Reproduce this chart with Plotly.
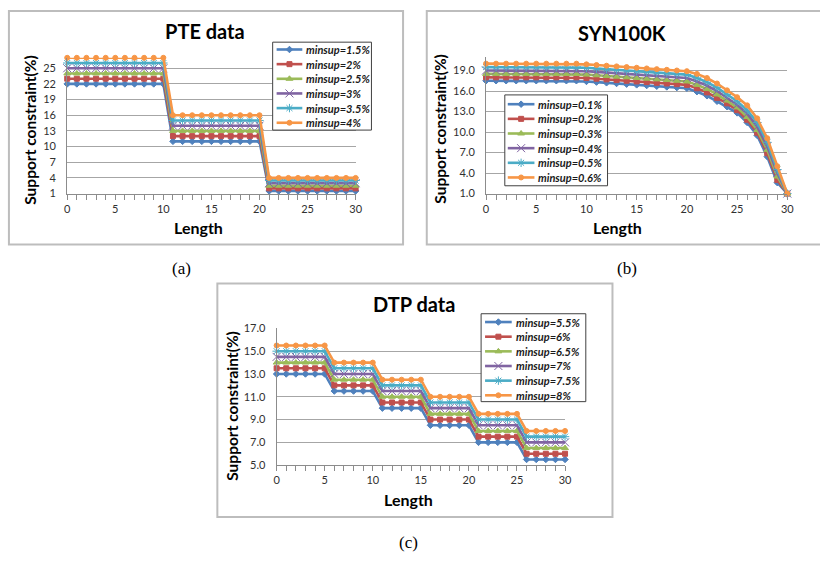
import plotly.graph_objects as go

# ---------------- data ----------------
length = list(range(31))

pte_names = ["minsup=1.5%", "minsup=2%", "minsup=2.5%", "minsup=3%", "minsup=3.5%", "minsup=4%"]
pte_15 = [22,22,22,22,22,22,22,22,22,22,22, 11,11,11,11,11,11,11,11,11,11, 1.5,1.5,1.5,1.5,1.5,1.5,1.5,1.5,1.5,1.5]
pte_20 = [23,23,23,23,23,23,23,23,23,23,23, 12,12,12,12,12,12,12,12,12,12, 2,2,2,2,2,2,2,2,2,2]
pte_25 = [24,24,24,24,24,24,24,24,24,24,24, 13,13,13,13,13,13,13,13,13,13, 2.5,2.5,2.5,2.5,2.5,2.5,2.5,2.5,2.5,2.5]
pte_30 = [25,25,25,25,25,25,25,25,25,25,25, 14,14,14,14,14,14,14,14,14,14, 3,3,3,3,3,3,3,3,3,3]
pte_35 = [26,26,26,26,26,26,26,26,26,26,26, 15,15,15,15,15,15,15,15,15,15, 3.5,3.5,3.5,3.5,3.5,3.5,3.5,3.5,3.5,3.5]
pte_40 = [27,27,27,27,27,27,27,27,27,27,27, 16,16,16,16,16,16,16,16,16,16, 4,4,4,4,4,4,4,4,4,4]

syn_names = ["minsup=0.1%", "minsup=0.2%", "minsup=0.3%", "minsup=0.4%", "minsup=0.5%", "minsup=0.6%"]
syn_01 = [17.5,17.5,17.5,17.5,17.5,17.5,17.5,17.5,17.5,17.5,17.4,17.3,17.2,17.1,17.0,16.9,16.8,16.7,16.6,16.5,16.4,15.9,15.3,14.5,13.7,12.8,11.4,9.5,6.4,2.6,1.0]
syn_02 = [18.0,18.0,18.0,18.0,18.0,18.0,18.0,18.0,18.0,18.0,17.9,17.8,17.7,17.6,17.5,17.4,17.3,17.2,17.1,17.0,16.9,16.4,15.8,15.0,14.2,13.2,11.8,9.9,6.9,3.0,1.0]
syn_03 = [18.5,18.5,18.5,18.5,18.5,18.5,18.5,18.5,18.5,18.5,18.4,18.3,18.2,18.1,18.0,17.9,17.8,17.7,17.6,17.5,17.4,16.9,16.3,15.5,14.6,13.6,12.2,10.3,7.4,3.5,1.0]
syn_04 = [19.0,19.0,19.0,19.0,19.0,19.0,19.0,19.0,19.0,19.0,18.9,18.8,18.7,18.6,18.5,18.4,18.3,18.2,18.1,18.0,17.9,17.4,16.8,16.0,15.0,14.0,12.7,10.8,7.9,4.0,1.0]
syn_05 = [19.5,19.5,19.5,19.5,19.5,19.5,19.5,19.5,19.5,19.5,19.4,19.3,19.2,19.1,19.0,18.9,18.8,18.7,18.6,18.5,18.4,17.9,17.3,16.5,15.5,14.5,13.2,11.4,8.5,4.5,1.0]
syn_06 = [20.0,20.0,20.0,20.0,20.0,20.0,20.0,20.0,20.0,20.0,19.9,19.8,19.7,19.6,19.5,19.4,19.3,19.2,19.1,19.0,18.9,18.5,17.9,17.1,16.1,15.1,13.9,12.0,9.1,5.0,1.0]

dtp_names = ["minsup=5.5%", "minsup=6%", "minsup=6.5%", "minsup=7%", "minsup=7.5%", "minsup=8%"]
dtp_55 = [13,13,13,13,13,13, 11.5,11.5,11.5,11.5,11.5, 10,10,10,10,10, 8.5,8.5,8.5,8.5,8.5, 7,7,7,7,7, 5.5,5.5,5.5,5.5,5.5]
dtp_60 = [13.5,13.5,13.5,13.5,13.5,13.5, 12,12,12,12,12, 10.5,10.5,10.5,10.5,10.5, 9,9,9,9,9, 7.5,7.5,7.5,7.5,7.5, 6,6,6,6,6]
dtp_65 = [14,14,14,14,14,14, 12.5,12.5,12.5,12.5,12.5, 11,11,11,11,11, 9.5,9.5,9.5,9.5,9.5, 8,8,8,8,8, 6.5,6.5,6.5,6.5,6.5]
dtp_70 = [14.5,14.5,14.5,14.5,14.5,14.5, 13,13,13,13,13, 11.5,11.5,11.5,11.5,11.5, 10,10,10,10,10, 8.5,8.5,8.5,8.5,8.5, 7,7,7,7,7]
dtp_75 = [15,15,15,15,15,15, 13.5,13.5,13.5,13.5,13.5, 12,12,12,12,12, 10.5,10.5,10.5,10.5,10.5, 9,9,9,9,9, 7.5,7.5,7.5,7.5,7.5]
dtp_80 = [15.5,15.5,15.5,15.5,15.5,15.5, 14,14,14,14,14, 12.5,12.5,12.5,12.5,12.5, 11,11,11,11,11, 9.5,9.5,9.5,9.5,9.5, 8,8,8,8,8]

# ---------------- style ----------------
colors = ["#4F81BD", "#C0504D", "#9BBB59", "#8064A2", "#4BACC6", "#F79646"]
symbols = ["diamond", "square", "triangle-up", "x-thin-open", "asterisk-open", "circle"]
msizes = [5, 5, 6, 8, 7, 5]
FONT = "Lato"
W, H = 820, 562

def px(x):
    return x / W

def py(y):
    return 1 - y / H

fig = go.Figure()

panels = [
    ("x", "y", pte_names, [pte_15, pte_20, pte_25, pte_30, pte_35, pte_40]),
    ("x2", "y2", syn_names, [syn_01, syn_02, syn_03, syn_04, syn_05, syn_06]),
    ("x3", "y3", dtp_names, [dtp_55, dtp_60, dtp_65, dtp_70, dtp_75, dtp_80]),
]
for xa, ya, names, series in panels:
    for i, (nm, vals) in enumerate(zip(names, series)):
        fig.add_trace(go.Scatter(
            x=length, y=vals, name=nm, mode="lines+markers",
            xaxis=xa, yaxis=ya, showlegend=False, cliponaxis=False,
            line=dict(color=colors[i], width=2.6),
            marker=dict(symbol=symbols[i], size=msizes[i], color=colors[i],
                        line=dict(color=colors[i], width=1)),
        ))

tickfont = dict(family=FONT, size=11, color="#303030")

def xax(domain, anchor):
    return dict(domain=domain, anchor=anchor, range=[0, 30], dtick=5, tick0=0,
                showgrid=False, zeroline=False, showline=True, linecolor="#8c8c8c", linewidth=1,
                ticks="outside", ticklen=5, tickcolor="#8c8c8c", tickfont=tickfont,
                minor=dict(dtick=1, ticks="outside", ticklen=5, tickcolor="#8c8c8c", showgrid=False))

def yax(domain, anchor, rng, t0, dt, fmt):
    return dict(domain=domain, anchor=anchor, range=rng, tick0=t0, dtick=dt, tickformat=fmt,
                showgrid=True, gridcolor="#a6a6a6", gridwidth=1, zeroline=False,
                showline=True, linecolor="#8c8c8c", linewidth=1, ticks="",
                ticklabelstandoff=8, tickfont=tickfont)

fig.update_layout(
    width=W, height=H, margin=dict(l=0, r=0, t=0, b=0),
    paper_bgcolor="white", plot_bgcolor="rgba(0,0,0,0)", showlegend=False,
    xaxis=xax([px(65), px(357)], "y"),
    yaxis=yax([py(191), py(52)], "x", [1, 27], 1, 3, "d"),
    xaxis2=xax([px(489), px(794)], "y2"),
    yaxis2=yax([py(191), py(51)], "x2", [1, 21], 1, 3, ".1f"),
    xaxis3=xax([px(277), px(569)], "y3"),
    yaxis3=yax([py(469), py(329)], "x3", [5, 17], 5, 2, ".1f"),
    # helper overlay in pixel units, used only for the compact legends
    xaxis4=dict(domain=[0, 1], anchor="y4", range=[0, W], visible=False, fixedrange=True),
    yaxis4=dict(domain=[0, 1], anchor="x4", range=[H, 0], visible=False, fixedrange=True),
)

# panel frames
for (x0, y0, x1, y1) in [(6, 4, 405, 243), (429, 4, 830, 243), (217, 283, 617, 522)]:
    fig.add_shape(type="rect", xref="paper", yref="paper",
                  x0=px(x0), x1=px(x1), y0=py(y1), y1=py(y0),
                  line=dict(color="#bdbdbd", width=2), fillcolor="rgba(0,0,0,0)", layer="below")

# compact legends (box, line sample + marker, text)
legends = [
    # box x0, y0, x1, y1, first row center, line start, line end, text start
    (pte_names, 273, 36, 373, 126, 43.5, 277, 303, 305),
    (syn_names, 508, 90, 612, 183, 99.5, 511, 538, 540),
    (dtp_names, 484, 314, 590, 404, 322.5, 488, 515, 517),
]
ROW = 15
for names, bx0, by0, bx1, by1, r0, lx0, lx1, tx in legends:
    fig.add_shape(type="rect", xref="x4", yref="y4", x0=bx0, x1=bx1, y0=by0, y1=by1,
                  line=dict(color="#404040", width=1), fillcolor="white", layer="between")
    for i, nm in enumerate(names):
        yy = r0 + i * ROW
        fig.add_trace(go.Scatter(x=[lx0, lx1], y=[yy, yy], mode="lines", xaxis="x4", yaxis="y4",
                                 showlegend=False, hoverinfo="skip", cliponaxis=False,
                                 line=dict(color=colors[i], width=2.6)))
        fig.add_trace(go.Scatter(x=[(lx0 + lx1) / 2], y=[yy], mode="markers", xaxis="x4", yaxis="y4",
                                 showlegend=False, hoverinfo="skip", cliponaxis=False,
                                 marker=dict(symbol=symbols[i], size=msizes[i], color=colors[i],
                                             line=dict(color=colors[i], width=1))))
        fig.add_annotation(text="<b><i>%s</i></b>" % nm, xref="paper", yref="paper",
                           x=px(tx), y=py(yy), showarrow=False, xanchor="left", yanchor="middle",
                           font=dict(family=FONT, size=11, color="#1a1a1a"))

def ann(text, x, y, size, angle=0, family=FONT, bold=True):
    fig.add_annotation(text=("<b>%s</b>" % text) if bold else text, xref="paper", yref="paper",
                       x=px(x), y=py(y), showarrow=False, textangle=angle,
                       xanchor="center", yanchor="middle",
                       font=dict(family=family, size=size, color="black"))

# titles
ann("PTE data", 204, 25, 20)
ann("SYN100K", 627, 27, 20)
ann("DTP data", 416, 304, 20)
# axis titles
ann("Length", 198, 226, 16)
ann("Length", 622, 226, 16)
ann("Length", 410, 504, 16)
ann("Support constraint(%)", 27, 126, 15.5, -90)
ann("Support constraint(%)", 443, 125, 15.5, -90)
ann("Support constraint(%)", 231, 408, 15.5, -90)
# panel labels
ann("(a)", 181, 268, 17, family="Liberation Serif", bold=False)
ann("(b)", 632, 268, 17, family="Liberation Serif", bold=False)
ann("(c)", 411, 548, 17, family="Liberation Serif", bold=False)

fig.write_html("out.html")
